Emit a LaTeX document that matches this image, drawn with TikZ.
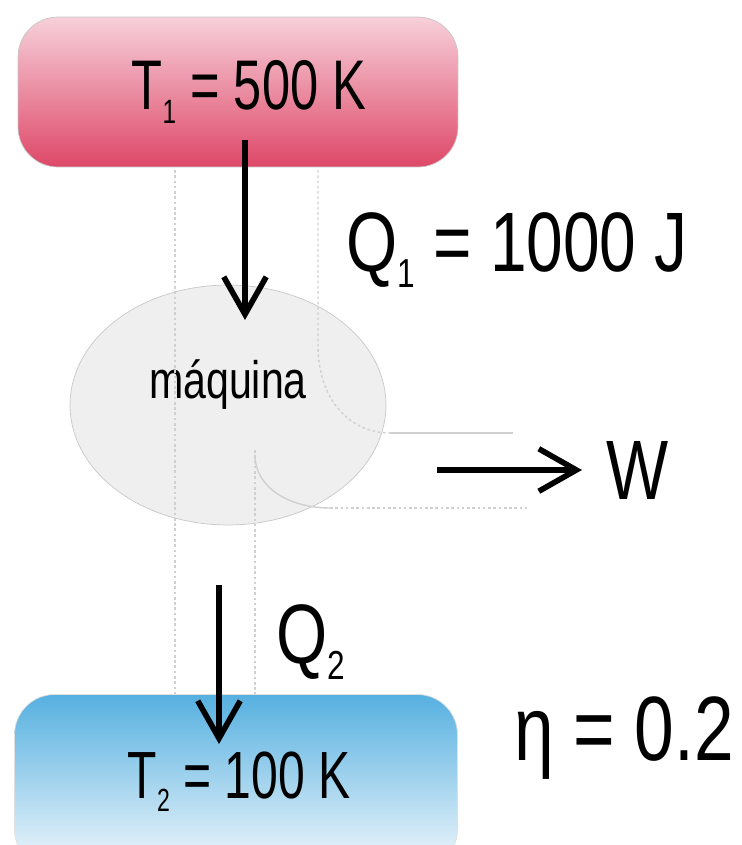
\documentclass[tikz,border=0pt]{standalone}
\usepackage{fontspec}
\setmainfont[FakeStretch=0.78]{Liberation Sans}
\newfontfamily\narrowfont[FakeStretch=0.72]{Liberation Sans}
\usepackage{graphicx}
\usepackage{tikz}
\usetikzlibrary{shapes.geometric, arrows.meta}
\definecolor{hottop}{RGB}{247,208,218}
\definecolor{hotbottom}{RGB}{222,72,104}
\definecolor{coldtop}{RGB}{86,176,224}
\definecolor{coldbottom}{RGB}{242,248,252}
\definecolor{enginefill}{RGB}{239,239,239}
\definecolor{engineline}{RGB}{200,200,200}
\definecolor{ghost}{RGB}{208,208,208}
\newcommand{\lowsub}[1]{\raisebox{-0.2em}{\scalebox{0.48}{#1}}}
\tikzstyle{hotnode} = [rectangle, rounded corners=0.8cm, minimum width=8.8cm, minimum height=3cm, text centered, draw=gray!45, top color=hottop, bottom color=hotbottom, font=\narrowfont\fontsize{40}{48}\selectfont]
\tikzstyle{coldnode} = [rectangle, rounded corners=0.8cm, minimum width=8.86cm, minimum height=3.5cm, text centered, draw=gray!25, top color=coldtop, bottom color=coldbottom, font=\narrowfont\fontsize{38}{44}\selectfont]
\tikzstyle{enginenode} = [ellipse, minimum width=6.32cm, minimum height=4.8cm, draw=engineline, fill=enginefill]
\tikzstyle{biglabel} = [font=\fontsize{48}{56}\selectfont, inner sep=0pt]
\tikzstyle{smalllabel} = [font=\fontsize{30}{36}\selectfont, inner sep=0pt]
\tikzstyle{ghostline} = [ghost, line width=0.8pt, dash pattern=on 1.5pt off 1.5pt]
\tikzstyle{ghostsolid} = [ghost, line width=0.8pt]
\tikzstyle{heatarrow} = [black, line width=3.2pt, -{Straight Barb[length=0.75cm, width=0.85cm, line width=3.2pt]}]

\begin{document}
\begin{tikzpicture}[x=0.02cm, y=-0.02cm]
    \clip (0,0) rectangle (741,845);
    \useasboundingbox (0,0) rectangle (741,845);

    \node (engine) [enginenode] at (228,405) {};
    \node (enginename) [smalllabel] at (228,385) {máquina};

    % faint guide lines behind the diagram
    \draw [ghostline] (175,170) -- (175,695);
    \draw [ghostline] (318,170) -- (318,345) .. controls (318,400) and (350,433) .. (390,433);
    \draw [ghostsolid] (390,433) -- (513,433);
    \draw [ghostline] (255,450) -- (255,695);
    \draw [ghostsolid] (255,455) .. controls (255,488) and (290,508) .. (330,508);
    \draw [ghostline] (330,508) -- (527,508);

    \node (hot) [hotnode] at (238,92) {\hspace*{0.44cm}T\lowsub{1} = 500 K};
    \node (cold) [coldnode] at (236,782) {\hspace*{0.12cm}T\lowsub{2} = 100 K};

    \node (q1) [biglabel] at (517,250) {Q\lowsub{1} = 1000 J};
    \node (w) [biglabel] at (638,470) {W};
    \node (q2) [biglabel] at (311,642) {Q\lowsub{2}};
    \node (eta) [biglabel, font=\fontsize{52}{60}\selectfont] at (624,738) {η = 0.2};

    \coordinate (q1top) at (245,140);
    \coordinate (q1tip) at (245,320);
    \coordinate (q2top) at (219,585);
    \coordinate (q2tip) at (219,744);
    \coordinate (wtail) at (437,470);
    \coordinate (wtip) at (582,470);

    \draw [heatarrow] (q1top) -- (q1tip);
    \draw [heatarrow] (wtail) -- (wtip);
    \draw [heatarrow] (q2top) -- (q2tip);
\end{tikzpicture}
\end{document}
